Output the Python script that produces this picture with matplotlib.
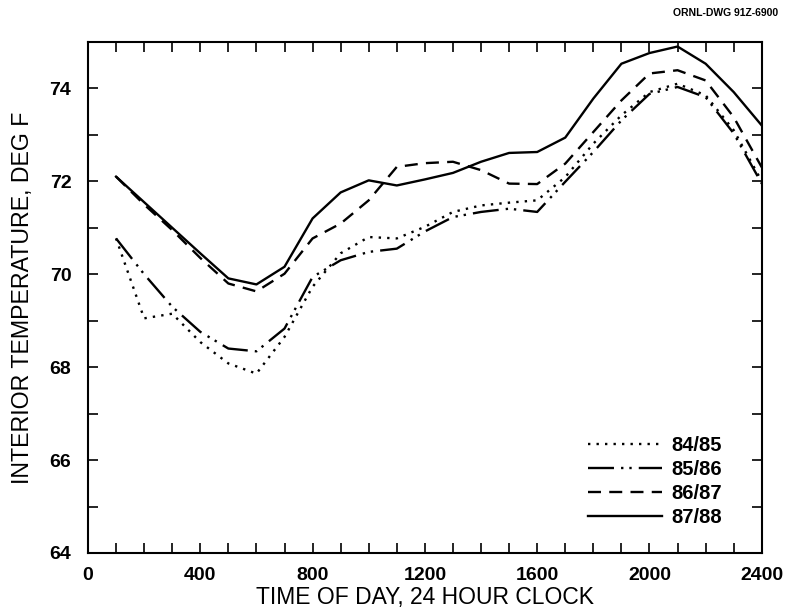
import numpy as np
import matplotlib
matplotlib.use('Agg')
import matplotlib.pyplot as plt
from matplotlib.ticker import MultipleLocator

plt.rcParams['font.family'] = ['Liberation Sans', 'DejaVu Sans']

# hourly readings, 24 hour clock
hours = [100, 200, 300, 400, 500, 600, 700, 800, 900, 1000, 1100, 1200,
         1300, 1400, 1500, 1600, 1700, 1800, 1900, 2000, 2100, 2200, 2300, 2400]

t_8485 = [70.77, 69.05, 69.15, 68.54, 68.08, 67.86, 68.65, 69.73, 70.45, 70.8, 70.77, 71.02,
          71.34, 71.48, 71.54, 71.59, 72.09, 72.81, 73.42, 73.92, 74.1, 73.85, 73.1, 72.0]
t_8586 = [70.77, 70.0, 69.3, 68.76, 68.4, 68.34, 68.83, 69.94, 70.3, 70.48, 70.55, 70.92,
          71.23, 71.34, 71.41, 71.34, 71.99, 72.63, 73.31, 73.88, 74.03, 73.81, 73.03, 71.95]
t_8687 = [72.1, 71.5, 70.95, 70.35, 69.8, 69.63, 70.01, 70.77, 71.09, 71.59, 72.31, 72.39,
          72.42, 72.24, 71.95, 71.94, 72.38, 73.06, 73.74, 74.32, 74.39, 74.17, 73.38, 72.3]
t_8788 = [72.1, 71.55, 71.0, 70.45, 69.91, 69.78, 70.16, 71.2, 71.76, 72.02, 71.91, 72.04,
          72.18, 72.42, 72.61, 72.63, 72.94, 73.78, 74.53, 74.76, 74.9, 74.53, 73.92, 73.2]

labels = ['84/85', '85/86', '86/87', '87/88']

fig = plt.figure(figsize=(7.89, 6.16), dpi=100)
ax = fig.add_axes([0.1115, 0.1023, 0.854, 0.8297])

lw = 1.7
ax.plot(hours, t_8485, color='black', lw=lw, linestyle=(0, (1, 2.6)), label=labels[0])
ax.plot(hours, t_8586, color='black', lw=lw, linestyle=(0, (11, 3, 1, 2.5, 1, 3)), label=labels[1])
ax.plot(hours, t_8687, color='black', lw=lw, linestyle=(0, (5.5, 3.5)), label=labels[2])
ax.plot(hours, t_8788, color='black', lw=lw, linestyle='-', label=labels[3])

ax.set_xlim(0, 2400)
ax.set_ylim(64, 75)
ax.xaxis.set_major_locator(MultipleLocator(400))
ax.xaxis.set_minor_locator(MultipleLocator(100))
ax.yaxis.set_major_locator(MultipleLocator(2))
ax.yaxis.set_minor_locator(MultipleLocator(1))
ax.tick_params(which='both', direction='in', top=True, right=True, width=1.2, length=7)
ax.tick_params(which='major', labelsize=14)
ax.tick_params(axis='x', which='major', pad=10)
ax.tick_params(axis='y', which='major', pad=12)
for lab in ax.get_xticklabels() + ax.get_yticklabels():
    lab.set_fontweight('bold')
for s in ax.spines.values():
    s.set_linewidth(1.5)

ax.set_xlabel('TIME OF DAY, 24 HOUR CLOCK', fontsize=16.5, labelpad=1.5)
ax.set_ylabel('INTERIOR TEMPERATURE, DEG F', fontsize=16.7, labelpad=11)

leg = fig.legend(loc='lower left', bbox_to_anchor=(0.745, 0.1445), frameon=False,
                 borderpad=0, borderaxespad=0,
                 handlelength=3.7, handletextpad=0.45, labelspacing=0.25,
                 prop={'size': 14.5, 'weight': 'bold'})

fig.text(0.986, 0.979, 'ORNL-DWG 91Z-6900', ha='right', va='center',
         fontsize=7.5, fontweight='bold')

fig.savefig('out.png', dpi=100)
